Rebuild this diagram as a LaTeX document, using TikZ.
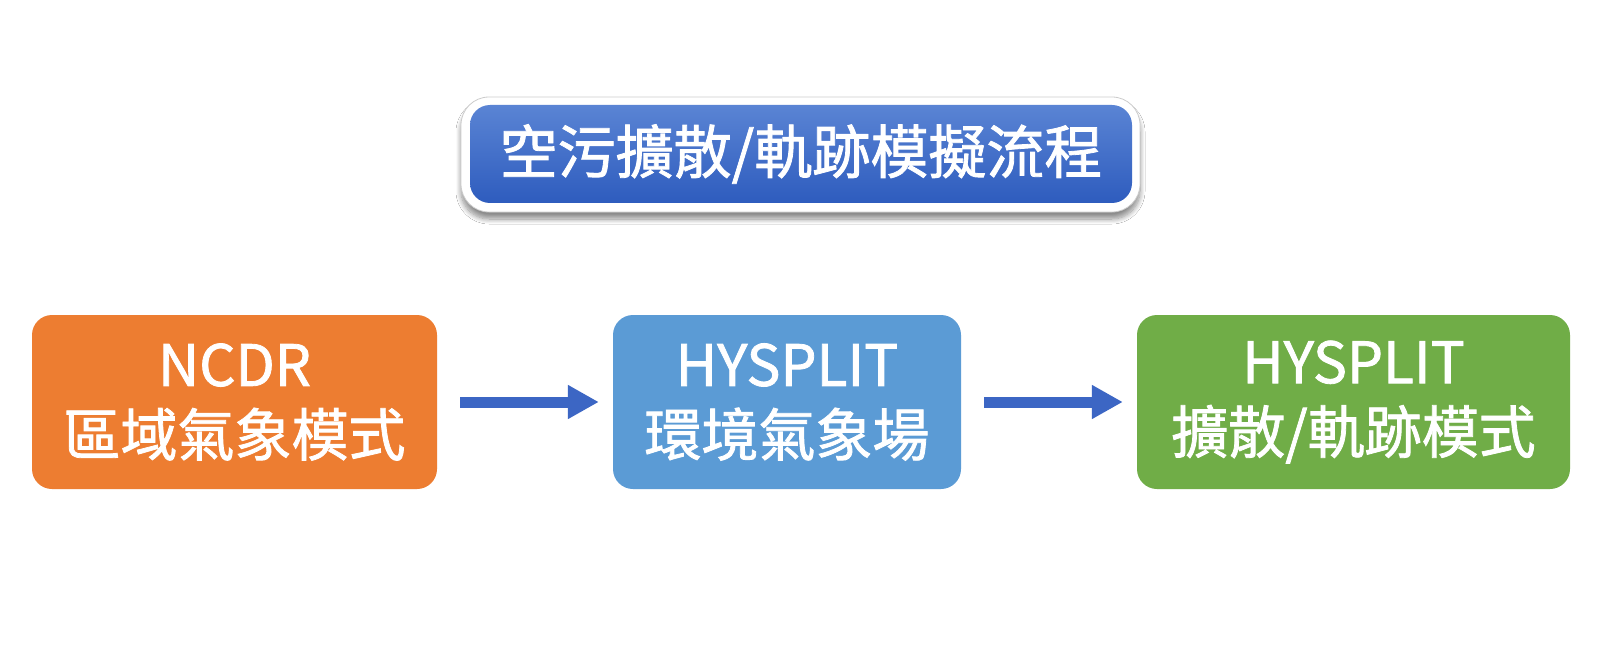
\documentclass[tikz,border=0pt]{standalone}
\usepackage{fontspec}
\setmainfont{Noto Sans CJK TC}[FakeBold=1.4]
\usetikzlibrary{arrows.meta,shadows.blur}
\definecolor{orangebox}{RGB}{237,125,49}
\definecolor{bluebox}{RGB}{91,155,213}
\definecolor{greenbox}{RGB}{112,173,71}
\definecolor{arrowblue}{RGB}{60,102,196}
\definecolor{titletop}{RGB}{90,132,212}
\definecolor{titlebot}{RGB}{46,92,190}
\tikzset{
  stepbox/.style={rounded corners=20pt, minimum height=174pt, inner sep=0pt,
    text=white, align=center, font=\fontsize{57}{70}\selectfont},
  titleframe/.style={rounded corners=28pt, fill=white, draw=black!20, line width=0.8pt,
    minimum width=679pt, minimum height=115pt, inner sep=0pt,
    blur shadow={shadow xshift=0pt, shadow yshift=-7pt, shadow blur steps=10, shadow blur radius=5pt, shadow opacity=45}},
  titlebox/.style={rounded corners=20pt, top color=titletop, bottom color=titlebot,
    minimum width=662pt, minimum height=98pt, inner sep=0pt, text=white,
    font=\fontsize{58}{64}\selectfont},
  flow/.style={draw=arrowblue, line width=11pt, -{Triangle[length=31pt,width=32pt]}}
}
\begin{document}
\begin{tikzpicture}[x=1pt,y=-1pt]
\useasboundingbox (0,0) rectangle (1600,647);
\fill[white] (0,0) rectangle (1600,647);
\node[titleframe] (frame) at (800.5,154.5) {};
\node[titlebox] (title) at (801,154) {空污擴散/軌跡模擬流程};
\node[stepbox, fill=orangebox, minimum width=405pt] (ncdr) at (234.5,402) {NCDR\\區域氣象模式};
\node[stepbox, fill=bluebox, minimum width=348pt] (env) at (787,402) {HYSPLIT\\環境氣象場};
\node[stepbox, fill=greenbox, minimum width=433pt] (disp) at (1353.5,402) {HYSPLIT\\擴散/軌跡模式};
\draw[flow] ([xshift=23pt]ncdr.east) -- ([xshift=-14pt]env.west);
\draw[flow] ([xshift=23pt]env.east) -- ([xshift=-14pt]disp.west);
\end{tikzpicture}
\end{document}
